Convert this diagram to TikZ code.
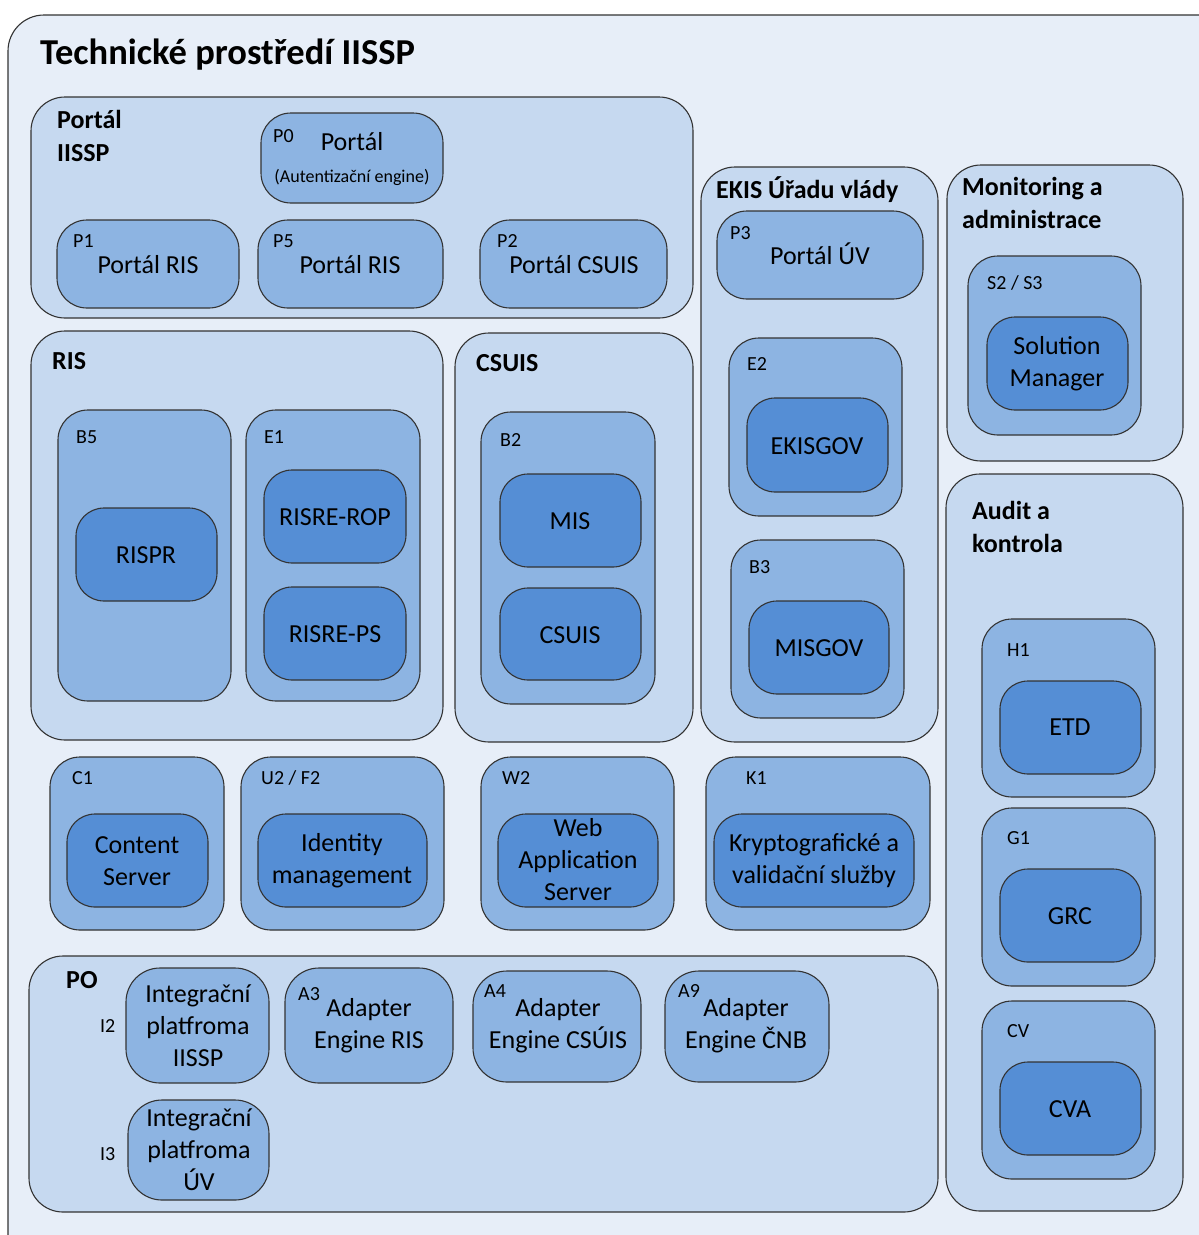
\documentclass[tikz,border=0pt]{standalone}
\usepackage{fontspec}
\setmainfont{Carlito}
\usetikzlibrary{fit}
\definecolor{outerc}{HTML}{E7EEF8}
\definecolor{grpc}{HTML}{C6D9F0}
\definecolor{midc}{HTML}{8DB4E2}
\definecolor{innc}{HTML}{558ED5}
\definecolor{edgec}{HTML}{333333}
\tikzset{
  box/.style={draw=edgec, line width=1.1pt, inner sep=0pt, rounded corners=28pt},
  outerbox/.style={box, fill=outerc, rounded corners=36pt},
  grp/.style={box, fill=grpc, rounded corners=34pt},
  mid/.style={box, fill=midc, rounded corners=30pt},
  inn/.style={box, fill=innc, rounded corners=28pt},
  ttl/.style={font=\fontsize{36.5}{40}\selectfont\bfseries, anchor=base west, inner sep=0pt},
  glbl/.style={font=\fontsize{26}{32}\selectfont\bfseries, anchor=base west, inner sep=0pt, align=left},
  tag/.style={font=\fontsize{20}{22}\selectfont, anchor=base west, inner sep=0pt},
  txt/.style={font=\fontsize{26}{32}\selectfont, inner sep=0pt, align=center},
  small/.style={font=\fontsize{18}{20}\selectfont, inner sep=0pt, align=center},
}
\begin{document}
\begin{tikzpicture}[x=1pt,y=-1pt]
\fill[white] (0,0) rectangle (1199,1235);
\clip (0,0) rectangle (1199,1235);
% outer
\node[outerbox, fit={(8,15) (1240,1275)}] (outer) {};
\node[ttl] (title) at (40,64) {Technické prostředí IISSP};

% Portal IISSP
\node[grp, fit={(31,97) (693,318)}] (gportal) {};
\node[glbl] (gportall) at (57,161) {Portál\\[1pt]IISSP};
\node[mid, fit={(261,113) (443,203)}] (p0) {};
\node[tag] (p0t) at (273,142) {P0};
\node[txt, anchor=base] (p0l) at (352,150) {Portál};
\node[small, anchor=base] (p0s) at (352,182) {(Autentizační engine)};
\node[mid, fit={(57,220) (239,308)}] (p1) {};
\node[tag] (p1t) at (73,247) {P1};
\node[txt, anchor=base] (p1l) at (148,273) {Portál RIS};
\node[mid, fit={(258,220) (443,308)}] (p5) {};
\node[tag] (p5t) at (273,247) {P5};
\node[txt, anchor=base] (p5l) at (350,273) {Portál RIS};
\node[mid, fit={(480,220) (667,308)}] (p2) {};
\node[tag] (p2t) at (497,247) {P2};
\node[txt, anchor=base] (p2l) at (574,273) {Portál CSUIS};

% RIS
\node[grp, fit={(31,331) (443,740)}] (gris) {};
\node[glbl] (grisl) at (52,369) {RIS};
\node[mid, fit={(58,410) (231,701)}] (b5) {};
\node[tag] (b5t) at (76,443) {B5};
\node[inn, fit={(76,508) (217,601)}] (rispr) {};
\node[txt] (risprl) at (146,555) {RISPR};
\node[mid, fit={(246,410) (420,701)}] (e1) {};
\node[tag] (e1t) at (264,443) {E1};
\node[inn, fit={(264,470) (406,563)}] (rop) {};
\node[txt] (ropl) at (335,517) {RISRE-ROP};
\node[inn, fit={(264,587) (406,680)}] (rps) {};
\node[txt] (rpsl) at (335,634) {RISRE-PS};

% CSUIS
\node[grp, fit={(455,333) (693,742)}] (gcsuis) {};
\node[glbl] (gcsuisl) at (476,371) {CSUIS};
\node[mid, fit={(481,412) (655,704)}] (b2) {};
\node[tag] (b2t) at (500,446) {B2};
\node[inn, fit={(500,474) (641,567)}] (mis) {};
\node[txt] (misl) at (570,521) {MIS};
\node[inn, fit={(500,588) (641,680)}] (csuis) {};
\node[txt] (csuisl) at (570,635) {CSUIS};

% EKIS
\node[grp, fit={(701,167) (938,742)}] (gekis) {};
\node[glbl] (gekisl) at (716,198) {EKIS Úřadu vlády};
\node[mid, fit={(717,211) (923,299)}] (p3) {};
\node[tag] (p3t) at (730,239) {P3};
\node[txt, anchor=base] (p3l) at (820,264) {Portál ÚV};
\node[mid, fit={(729,338) (902,516)}] (e2) {};
\node[tag] (e2t) at (747,370) {E2};
\node[inn, fit={(747,398) (888,492)}] (ekisgov) {};
\node[txt] (ekisgovl) at (817,446) {EKISGOV};
\node[mid, fit={(731,540) (904,718)}] (b3) {};
\node[tag] (b3t) at (749,573) {B3};
\node[inn, fit={(749,601) (889,694)}] (misgov) {};
\node[txt] (misgovl) at (819,648) {MISGOV};

% Monitoring
\node[grp, fit={(947,165) (1183,461)}] (gmon) {};
\node[glbl] (gmonl) at (962,228) {Monitoring a\\[1pt]administrace};
\node[mid, fit={(968,256) (1141,435)}] (s2) {};
\node[tag] (s2t) at (987,289) {S2 / S3};
\node[inn, fit={(987,317) (1128,410)}] (solman) {};
\node[txt] (solmanl) at (1057,364) {Solution\\Manager};

% Audit
\node[grp, fit={(946,474) (1183,1211)}] (gaudit) {};
\node[glbl] (gauditl) at (972,552) {Audit a\\[1pt]kontrola};
\node[mid, fit={(982,619) (1155,797)}] (h1) {};
\node[tag] (h1t) at (1007,656) {H1};
\node[inn, fit={(1000,681) (1141,774)}] (etd) {};
\node[txt] (etdl) at (1070,727) {ETD};
\node[mid, fit={(982,808) (1155,986)}] (g1) {};
\node[tag] (g1t) at (1007,844) {G1};
\node[inn, fit={(1000,869) (1141,962)}] (grc) {};
\node[txt] (grcl) at (1070,916) {GRC};
\node[mid, fit={(982,1001) (1155,1179)}] (cv) {};
\node[tag] (cvt) at (1007,1037) {CV};
\node[inn, fit={(1000,1062) (1141,1155)}] (cva) {};
\node[txt] (cval) at (1070,1109) {CVA};

% Row of servers
\node[mid, fit={(50,757) (224,930)}] (c1) {};
\node[tag] (c1t) at (72,784) {C1};
\node[inn, fit={(67,814) (208,907)}] (cs) {};
\node[txt] (csl) at (137,861) {Content\\Server};
\node[mid, fit={(241,757) (444,930)}] (u2) {};
\node[tag] (u2t) at (261,784) {U2 / F2};
\node[inn, fit={(258,814) (427,907)}] (idm) {};
\node[txt] (idml) at (342,861) {Identity\\management};
\node[mid, fit={(481,757) (674,930)}] (w2) {};
\node[tag] (w2t) at (502,784) {W2};
\node[inn, fit={(498,814) (658,907)}] (was) {};
\node[txt] (wasl) at (578,860) {Web\\Application\\Server};
\node[mid, fit={(706,757) (930,930)}] (k1) {};
\node[tag] (k1t) at (746,784) {K1};
\node[inn, fit={(714,814) (914,907)}] (kry) {};
\node[txt] (kryl) at (814,861) {Kryptografické a\\validační služby};

% PO
\node[grp, fit={(29,956) (938,1212)}] (gpo) {};
\node[glbl] (gpol) at (66,988) {PO};
\node[mid, rounded corners=34pt, fit={(126,968) (269,1083)}] (i2) {};
\node[tag] (i2t) at (100,1032) {I2};
\node[txt] (i2l) at (198,1026) {Integrační\\platfroma\\IISSP};
\node[mid, rounded corners=34pt, fit={(285,968) (453,1083)}] (a3) {};
\node[tag] (a3t) at (298,1000) {A3};
\node[txt] (a3l) at (369,1026) {Adapter\\Engine RIS};
\node[mid, rounded corners=34pt, fit={(473,971) (641,1082)}] (a4) {};
\node[tag] (a4t) at (484,997) {A4};
\node[txt] (a4l) at (558,1026) {Adapter\\Engine CSÚIS};
\node[mid, rounded corners=34pt, fit={(665,971) (829,1082)}] (a9) {};
\node[tag] (a9t) at (678,997) {A9};
\node[txt] (a9l) at (746,1026) {Adapter\\Engine ČNB};
\node[mid, rounded corners=34pt, fit={(128,1100) (269,1200)}] (i3) {};
\node[tag] (i3t) at (100,1160) {I3};
\node[txt] (i3l) at (199,1150) {Integrační\\platfroma\\ÚV};
\end{tikzpicture}
\end{document}
